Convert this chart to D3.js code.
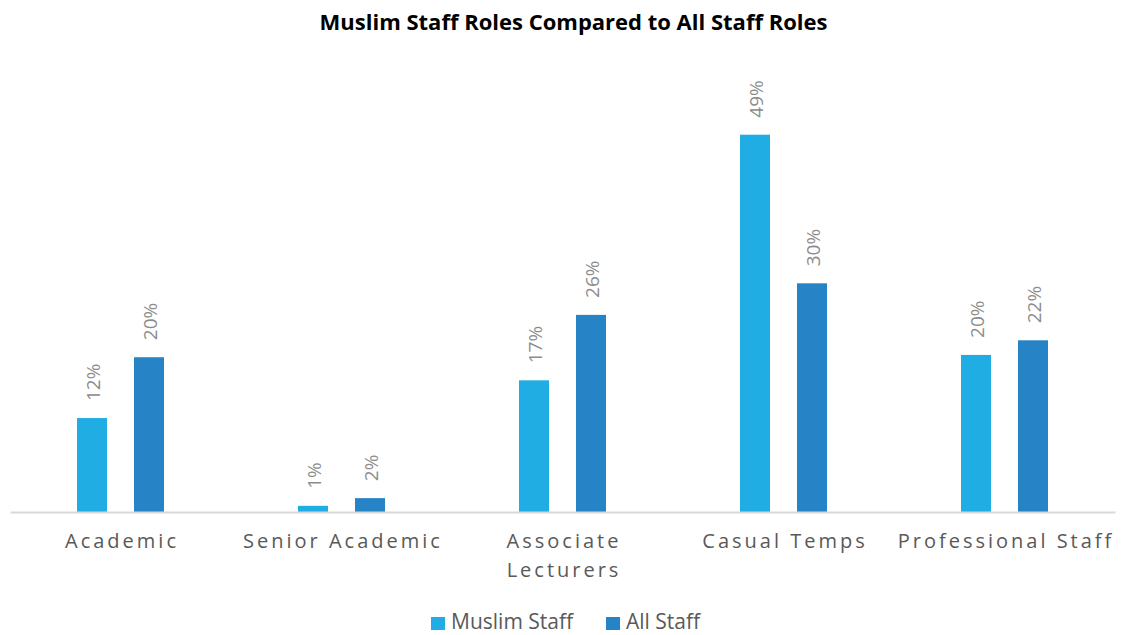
<!DOCTYPE html>
<html>
<head>
<meta charset="utf-8">
<script src="https://cdn.jsdelivr.net/npm/d3@7"></script>
<style>
  html, body { margin: 0; padding: 0; background: #ffffff; }
  svg { display: block; }
</style>
</head>
<body>
<svg id="chart" width="1121" height="635"></svg>
<script>
const titleText = "Muslim Staff Roles Compared to All Staff Roles";
const categories = ["Academic", "Senior Academic", "Associate Lecturers", "Casual Temps", "Professional Staff"];
const categoryLines = [["Academic"], ["Senior Academic"], ["Associate", "Lecturers"], ["Casual Temps"], ["Professional Staff"]];
const seriesNames = ["Muslim Staff", "All Staff"];
const muslimValues = [0.122, 0.008, 0.171, 0.490, 0.204];
const allValues = [0.201, 0.018, 0.256, 0.297, 0.223];
const seriesColors = ["#1FADE3", "#2683C6"];

const svg = d3.select("#chart");
const W = 1121, H = 635;
const baseFont = "'Open Sans', 'Noto Sans', sans-serif";

const x0 = d3.scaleBand().domain(categories).range([10, 1115]).padding(0);
const bw = x0.bandwidth();
const x1 = d3.scaleBand().domain(seriesNames)
  .range([bw / 2 - 43.5, bw / 2 + 43.5])
  .paddingInner(27 / 57).paddingOuter(0);
const y = d3.scaleLinear().domain([0, 0.6]).range([512, 50]);

const rows = categories.map((c, i) => ({
  cat: c,
  lines: categoryLines[i],
  vals: [
    { s: seriesNames[0], v: muslimValues[i], color: seriesColors[0] },
    { s: seriesNames[1], v: allValues[i], color: seriesColors[1] }
  ]
}));

// Title
svg.append("text")
  .attr("x", 573.5)
  .attr("y", 30)
  .attr("text-anchor", "middle")
  .style("font-family", baseFont)
  .style("font-weight", "bold")
  .style("font-size", "22px")
  .style("fill", "#000000")
  .text(titleText);

// Bars
const groups = svg.append("g").selectAll("g")
  .data(rows).join("g")
  .attr("transform", d => `translate(${x0(d.cat)},0)`);

groups.selectAll("rect")
  .data(d => d.vals).join("rect")
  .attr("x", d => x1(d.s))
  .attr("y", d => y(d.v))
  .attr("width", x1.bandwidth())
  .attr("height", d => y(0) - y(d.v))
  .attr("fill", d => d.color);

// Value labels (rotated)
const fmt = d3.format(".0%");
groups.selectAll("text.val")
  .data(d => d.vals).join("text")
  .attr("class", "val")
  .attr("transform", d => `translate(${x1(d.s) + x1.bandwidth() / 2 + 1},${y(d.v) - 17}) rotate(-90)`)
  .attr("dy", "0.36em")
  .attr("text-anchor", "start")
  .style("font-family", baseFont)
  .style("font-size", "19px")
  .style("fill", "#8C8C8C")
  .text(d => fmt(d.v));

// X axis
const xAxis = d3.axisBottom(x0).tickSize(0).tickPadding(0);
const axisG = svg.append("g")
  .attr("transform", `translate(0,${y(0)})`)
  .call(xAxis);
axisG.select(".domain").attr("stroke", "#D9D9D9").attr("stroke-width", 2);
axisG.selectAll(".tick text").remove();

// Category labels
axisG.selectAll(".tick").each(function(d) {
  const i = categories.indexOf(d);
  const t = d3.select(this).append("text")
    .attr("text-anchor", "middle")
    .attr("fill", "#595959")
    .style("font-family", baseFont)
    .style("font-size", "20px")
    .style("letter-spacing", "3px");
  categoryLines[i].forEach((l, k) => {
    t.append("tspan").attr("x", 1.5).attr("y", 36 + k * 28.5).text(l);
  });
});

// Legend
const legend = svg.append("g");
const legendX = [431, 606];
seriesNames.forEach((name, i) => {
  legend.append("rect")
    .attr("x", legendX[i]).attr("y", 617)
    .attr("width", 14).attr("height", 13)
    .attr("fill", seriesColors[i]);
  legend.append("text")
    .attr("x", legendX[i] + 20).attr("y", 629)
    .style("font-family", baseFont)
    .style("font-size", "21px")
    .style("fill", "#595959")
    .text(name);
});
</script>
</body>
</html>
